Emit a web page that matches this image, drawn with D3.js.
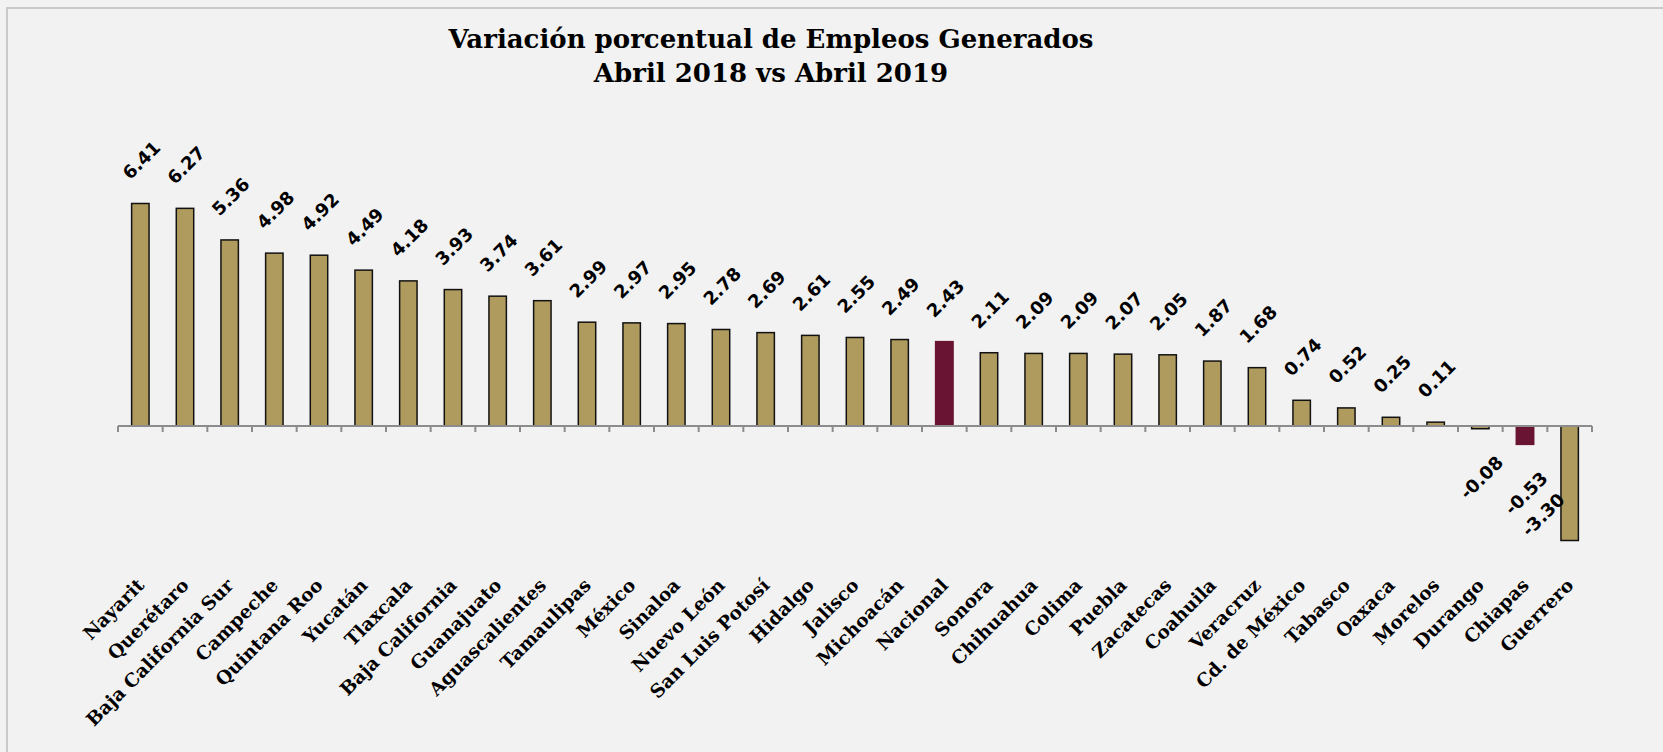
<!DOCTYPE html>
<html>
<head>
<meta charset="utf-8">
<script src="https://cdn.jsdelivr.net/npm/d3@7"></script>
<style>
	html, body { margin: 0; padding: 0; background: #f2f2f2; }
	svg { display: block; }
</style>
</head>
<body>
<svg id="chart" width="1663" height="752"></svg>
<script>
const states = ['Nayarit', 'Querétaro', 'Baja California Sur', 'Campeche', 'Quintana Roo', 'Yucatán',
	'Tlaxcala', 'Baja California', 'Guanajuato', 'Aguascalientes', 'Tamaulipas', 'México', 'Sinaloa',
	'Nuevo León', 'San Luis Potosí', 'Hidalgo', 'Jalisco', 'Michoacán', 'Nacional', 'Sonora',
	'Chihuahua', 'Colima', 'Puebla', 'Zacatecas', 'Coahuila', 'Veracruz', 'Cd. de México', 'Tabasco',
	'Oaxaca', 'Morelos', 'Durango', 'Chiapas', 'Guerrero'];
const values = [6.41, 6.27, 5.36, 4.98, 4.92, 4.49, 4.18, 3.93, 3.74, 3.61, 2.99, 2.97, 2.95, 2.78,
	2.69, 2.61, 2.55, 2.49, 2.43, 2.11, 2.09, 2.09, 2.07, 2.05, 1.87, 1.68, 0.74, 0.52, 0.25, 0.11,
	-0.08, -0.53, -3.30];
const highlighted = ['Nacional', 'Chiapas'];
const titleLines = ['Variación porcentual de Empleos Generados', 'Abril 2018 vs Abril 2019'];

const data = states.map((s, i) => ({state: s, value: values[i]}));

const svg = d3.select('#chart');

// marco
svg.append('rect')
	.attr('x', 7).attr('y', 8)
	.attr('width', 1700).attr('height', 800)
	.attr('fill', '#f2f2f2')
	.attr('stroke', '#c9c9c9')
	.attr('stroke-width', 2);

// titulo
svg.append('g')
	.selectAll('text')
	.data(titleLines)
	.join('text')
	.attr('x', 771)
	.attr('y', (d, i) => 48 + i * 34)
	.attr('text-anchor', 'middle')
	.style('font-family', '"DejaVu Serif", serif')
	.style('font-weight', 'bold')
	.style('font-size', '26px')
	.text(d => d);

let x = d3.scaleBand()
	.domain(states)
	.range([118, 1592])
	.padding(0);

let y = d3.scaleLinear()
	.domain([d3.min(values), d3.max(values)])
	.range([540.5, 203.5]);

const barW = x.bandwidth() * 0.39;
const plotBottom = y(d3.min(values));

// barras
svg.append('g')
	.selectAll('rect')
	.data(data)
	.join('rect')
	.attr('x', d => x(d.state) + (x.bandwidth() - barW) / 2)
	.attr('y', d => y(Math.max(0, d.value)))
	.attr('width', barW)
	.attr('height', d => Math.abs(y(d.value) - y(0)))
	.attr('fill', d => highlighted.includes(d.state) ? '#6a1434' : '#b09b5e')
	.attr('stroke', d => highlighted.includes(d.state) ? '#6a1434' : '#111')
	.attr('stroke-width', 1.5);

// eje
const axis = svg.append('g');
axis.append('line')
	.attr('x1', x.range()[0]).attr('x2', x.range()[1])
	.attr('y1', y(0)).attr('y2', y(0))
	.attr('stroke', '#8c8c8c')
	.attr('stroke-width', 2);
axis.selectAll('.tick')
	.data(states.concat(['end']))
	.join('line')
	.attr('class', 'tick')
	.attr('x1', (d, i) => x.range()[0] + i * x.step())
	.attr('x2', (d, i) => x.range()[0] + i * x.step())
	.attr('y1', y(0))
	.attr('y2', y(0) + 6)
	.attr('stroke', '#8c8c8c')
	.attr('stroke-width', 2);

// etiquetas de valores
const labels = svg.append('g')
	.selectAll('text')
	.data(data)
	.join('text')
	.style('font-family', '"DejaVu Sans", Verdana, sans-serif')
	.style('font-weight', 'bold')
	.style('font-size', '18px')
	.attr('text-anchor', 'middle')
	.attr('dominant-baseline', 'central')
	.text(d => d.value.toFixed(2));

labels.each(function(d) {
	let len = this.getComputedTextLength();
	let half = (len + 13) * 0.354;
	let cx = x(d.state) + x.bandwidth() / 2 + 1;
	let off = len * 0.707 + 12;
	let cy = d.value >= 0 ? y(d.value) - off : y(d.value) + off;
	if (d.value < 0 && cy + half > plotBottom) {
		cy = plotBottom - half - 3;
		cx = x(d.state) + (x.bandwidth() - barW) / 2 - half + 5;
	}
	d3.select(this).attr('transform', `translate(${cx},${cy}) rotate(-45)`);
});

// etiquetas de categorias
svg.append('g')
	.selectAll('text')
	.data(data)
	.join('text')
	.attr('text-anchor', 'end')
	.attr('transform', d => `translate(${x(d.state) + x.bandwidth() / 2 + 5},${plotBottom + 46}) rotate(-45)`)
	.style('font-family', '"DejaVu Serif", serif')
	.style('font-weight', 'bold')
	.style('font-size', '18.5px')
	.text(d => d.state);
</script>
</body>
</html>
